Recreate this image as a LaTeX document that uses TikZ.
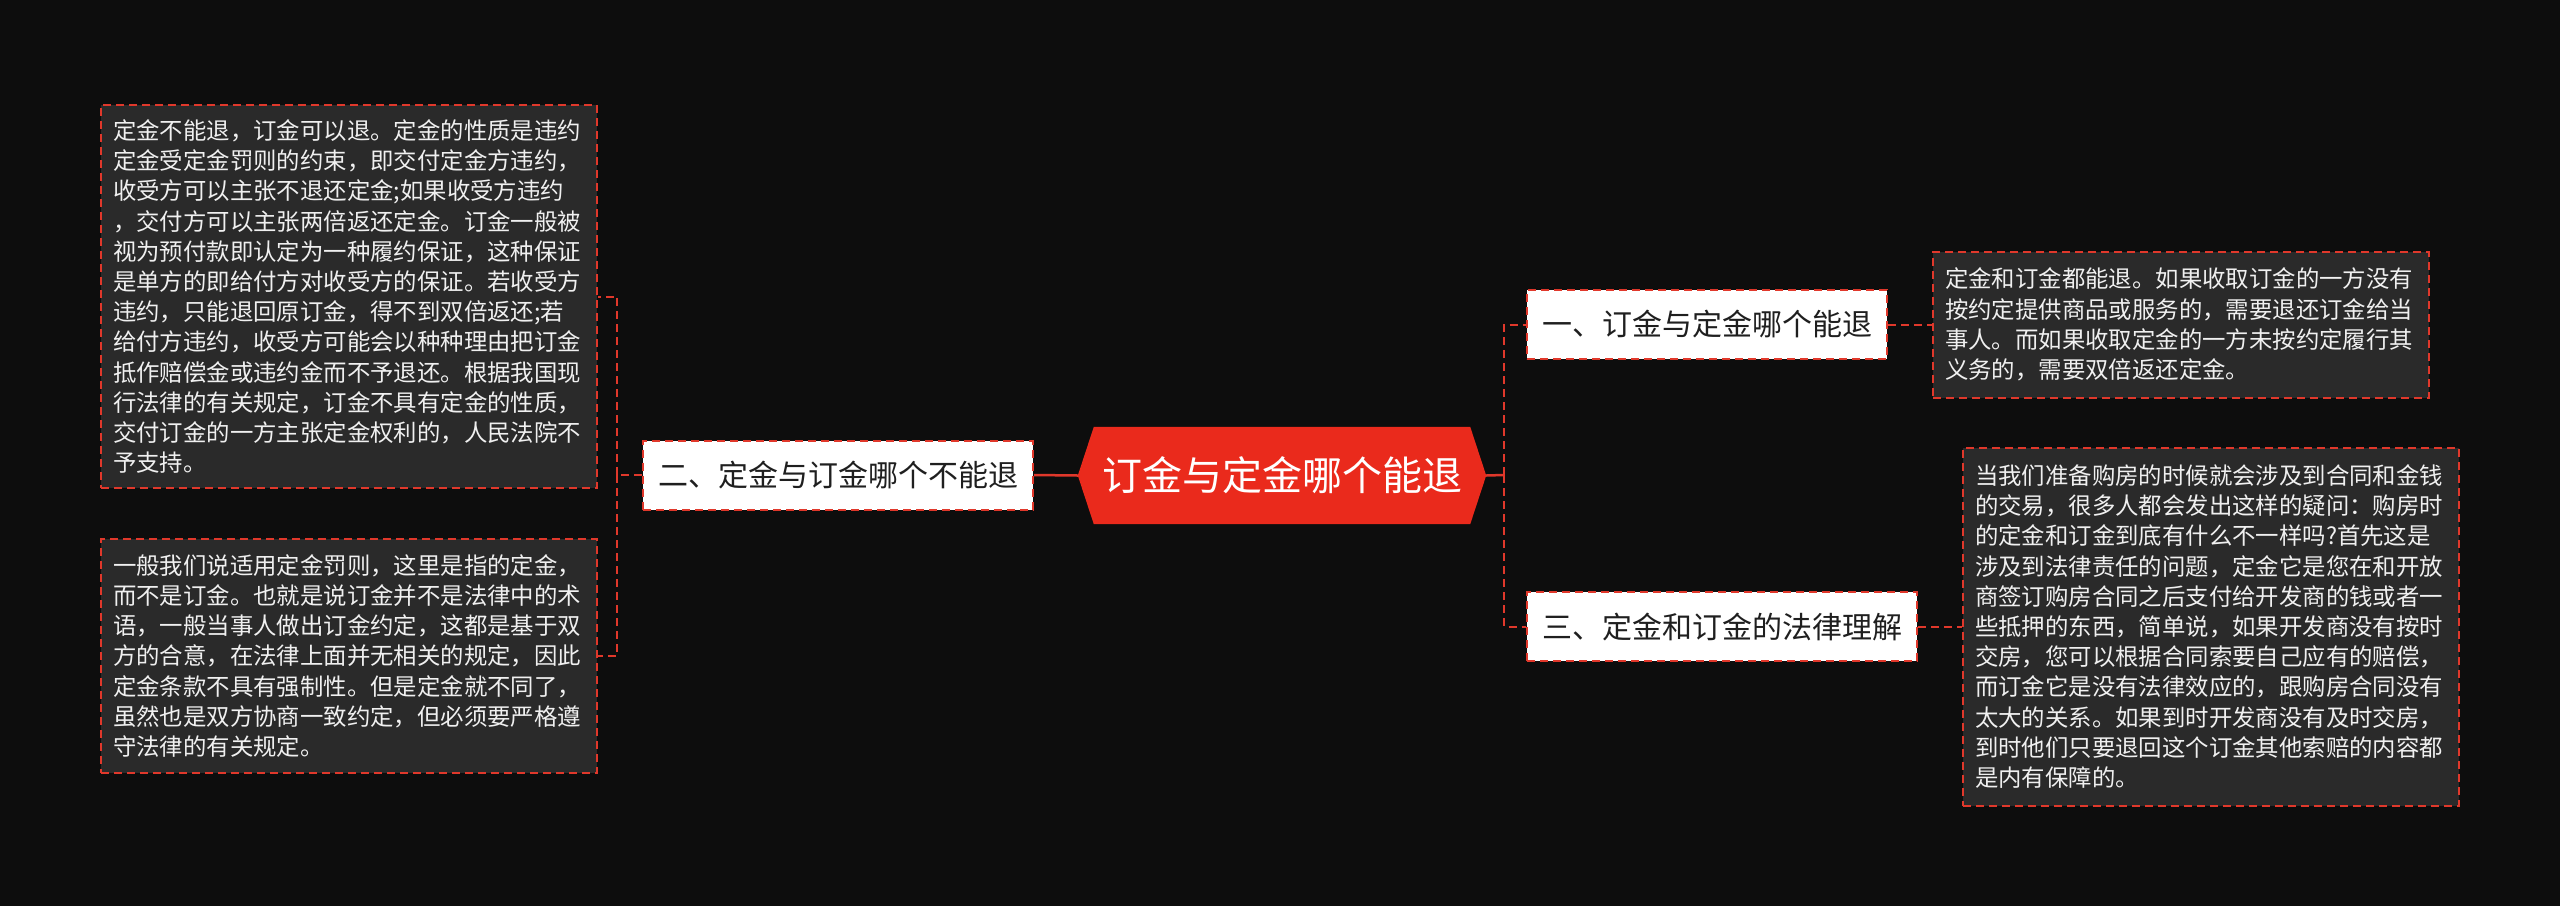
\documentclass[tikz,border=0pt]{standalone}
\usepackage{fontspec}
\newfontfamily\cjk{Noto Sans CJK SC}
\usetikzlibrary{backgrounds,calc}
\definecolor{bgc}{HTML}{0D0D0D}
\definecolor{boxc}{HTML}{2A2A2A}
\definecolor{redc}{HTML}{E0382B}
\definecolor{hubc}{HTML}{EA2A1C}
\tikzset{
  reddash/.style={draw=redc, line width=2pt, dash pattern=on 8pt off 5pt},
  textbox/.style={reddash, fill=boxc, text=white!94!black, align=left, text width=472pt,
    inner xsep=12pt, inner ysep=0pt, font=\cjk\fontsize{23.4}{30.2}\selectfont},
  topic/.style={reddash, fill=white, text=black!88, font=\cjk\fontsize{30}{36}\selectfont,
    inner xsep=15pt, inner ysep=0pt, minimum height=69pt},
  link/.style={reddash},
  hublink/.style={draw=redc, line width=2.5pt},
}
\begin{document}
\begin{tikzpicture}[x=1pt,y=-1pt]
\useasboundingbox (0,0) rectangle (2560,906);

% central node
\node (hub) [font=\cjk\fontsize{40}{48}\selectfont, text=white, minimum width=408pt,
  minimum height=97pt, inner sep=0pt] at (1282,475.5) {订金与定金哪个能退};

% topics
\node (n2) [topic, anchor=east] at (1034,475) {二、定金与订金哪个不能退};
\node (n1) [topic, anchor=west] at (1526,324.5) {一、订金与定金哪个能退};
\node (n3) [topic, anchor=west] at (1526,626.5) {三、定金和订金的法律理解};

% text boxes
\node (b1) [textbox, minimum height=383pt] at (349,296.5) {定金不能退，订金可以退。定金的性质是违约\\
定金受定金罚则的约束，即交付定金方违约，\\
收受方可以主张不退还定金;如果收受方违约\\
，交付方可以主张两倍返还定金。订金一般被\\
视为预付款即认定为一种履约保证，这种保证\\
是单方的即给付方对收受方的保证。若收受方\\
违约，只能退回原订金，得不到双倍返还;若\\
给付方违约，收受方可能会以种种理由把订金\\
抵作赔偿金或违约金而不予退还。根据我国现\\
行法律的有关规定，订金不具有定金的性质，\\
交付订金的一方主张定金权利的，人民法院不\\
予支持。};

\node (b2) [textbox, minimum height=234pt] at (349,656) {一般我们说适用定金罚则，这里是指的定金，\\
而不是订金。也就是说订金并不是法律中的术\\
语，一般当事人做出订金约定，这都是基于双\\
方的合意，在法律上面并无相关的规定，因此\\
定金条款不具有强制性。但是定金就不同了，\\
虽然也是双方协商一致约定，但必须要严格遵\\
守法律的有关规定。};

\node (r1) [textbox, minimum height=146pt] at (2181,324.5) {定金和订金都能退。如果收取订金的一方没有\\
按约定提供商品或服务的，需要退还订金给当\\
事人。而如果收取定金的一方未按约定履行其\\
义务的，需要双倍返还定金。};

\node (r2) [textbox, minimum height=358pt] at (2211,626.5) {当我们准备购房的时候就会涉及到合同和金钱\\
的交易，很多人都会发出这样的疑问：购房时\\
的定金和订金到底有什么不一样吗?首先这是\\
涉及到法律责任的问题，定金它是您在和开放\\
商签订购房合同之后支付给开发商的钱或者一\\
些抵押的东西，简单说，如果开发商没有按时\\
交房，您可以根据合同索要自己应有的赔偿，\\
而订金它是没有法律效应的，跟购房合同没有\\
太大的关系。如果到时开发商没有及时交房，\\
到时他们只要退回这个订金其他索赔的内容都\\
是内有保障的。};

% background and hexagon
\begin{scope}[on background layer]
  \fill[bgc] (0,0) rectangle (2560,906);
  \fill[hubc] (hub.west) -- ($(hub.north west)+(16,0)$) -- ($(hub.north east)+(-16,0)$)
    -- (hub.east) -- ($(hub.south east)+(-16,0)$) -- ($(hub.south west)+(16,0)$) -- cycle;
\end{scope}

% connectors
\coordinate (lx) at (617,475);
\coordinate (rx) at (1504,475);
\draw[hublink] (hub.west) -- (n2.east);
\draw[link] (n2.west) -- (lx);
\draw[link] (lx) |- (b1.east);
\draw[link] (lx) |- (b2.east);
\draw[hublink] (hub.east) -- (rx);
\draw[link] (rx) |- (n1.west);
\draw[link] (rx) |- (n3.west);
\draw[link] (n1.east) -- (r1.west);
\draw[link] (n3.east) -- (r2.west);
\end{tikzpicture}
\end{document}
